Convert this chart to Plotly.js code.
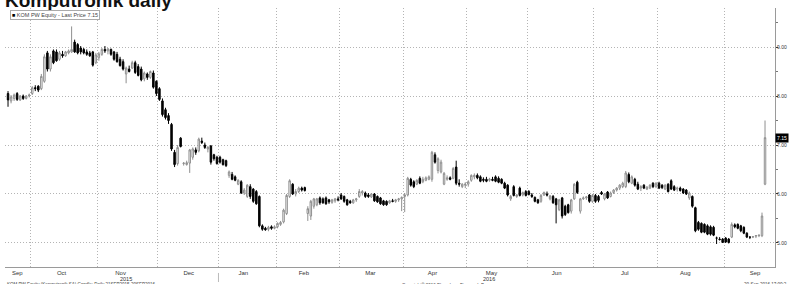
<!DOCTYPE html>
<html>
<head>
<meta charset="utf-8">
<script src="https://cdn.plot.ly/plotly-3.0.1.min.js"></script>
<style>html,body{margin:0;padding:0;background:#fff;}#chart{width:789px;height:284px;}</style>
</head>
<body>
<div id="chart"></div>
<script>
// Trading days (Warsaw exchange), 21 Sep 2015 - 20 Sep 2016
const dates = [
"2015-09-21","2015-09-22","2015-09-23","2015-09-24","2015-09-25","2015-09-28","2015-09-29","2015-09-30",
"2015-10-01","2015-10-02","2015-10-05","2015-10-06","2015-10-07","2015-10-08","2015-10-09","2015-10-12","2015-10-13","2015-10-14","2015-10-15","2015-10-16","2015-10-19","2015-10-20","2015-10-21","2015-10-22","2015-10-23","2015-10-26","2015-10-27","2015-10-28","2015-10-29","2015-10-30",
"2015-11-02","2015-11-03","2015-11-04","2015-11-05","2015-11-06","2015-11-09","2015-11-10","2015-11-12","2015-11-13","2015-11-16","2015-11-17","2015-11-18","2015-11-19","2015-11-20","2015-11-23","2015-11-24","2015-11-25","2015-11-26","2015-11-27","2015-11-30",
"2015-12-01","2015-12-02","2015-12-03","2015-12-04","2015-12-07","2015-12-08","2015-12-09","2015-12-10","2015-12-11","2015-12-14","2015-12-15","2015-12-16","2015-12-17","2015-12-18","2015-12-21","2015-12-22","2015-12-23","2015-12-28","2015-12-29","2015-12-30",
"2016-01-04","2016-01-05","2016-01-07","2016-01-08","2016-01-11","2016-01-12","2016-01-13","2016-01-14","2016-01-15","2016-01-18","2016-01-19","2016-01-20","2016-01-21","2016-01-22","2016-01-25","2016-01-26","2016-01-27","2016-01-28","2016-01-29",
"2016-02-01","2016-02-02","2016-02-03","2016-02-04","2016-02-05","2016-02-08","2016-02-09","2016-02-10","2016-02-11","2016-02-12","2016-02-15","2016-02-16","2016-02-17","2016-02-18","2016-02-19","2016-02-22","2016-02-23","2016-02-24","2016-02-25","2016-02-26","2016-02-29",
"2016-03-01","2016-03-02","2016-03-03","2016-03-04","2016-03-07","2016-03-08","2016-03-09","2016-03-10","2016-03-11","2016-03-14","2016-03-15","2016-03-16","2016-03-17","2016-03-18","2016-03-21","2016-03-22","2016-03-23","2016-03-24","2016-03-29","2016-03-30","2016-03-31",
"2016-04-01","2016-04-04","2016-04-05","2016-04-06","2016-04-07","2016-04-08","2016-04-11","2016-04-12","2016-04-13","2016-04-14","2016-04-15","2016-04-18","2016-04-19","2016-04-20","2016-04-21","2016-04-22","2016-04-25","2016-04-26","2016-04-27","2016-04-28","2016-04-29",
"2016-05-02","2016-05-04","2016-05-05","2016-05-06","2016-05-09","2016-05-10","2016-05-11","2016-05-12","2016-05-13","2016-05-16","2016-05-17","2016-05-18","2016-05-19","2016-05-20","2016-05-23","2016-05-24","2016-05-25","2016-05-27","2016-05-30","2016-05-31",
"2016-06-01","2016-06-02","2016-06-03","2016-06-06","2016-06-07","2016-06-08","2016-06-09","2016-06-10","2016-06-13","2016-06-14","2016-06-15","2016-06-16","2016-06-17","2016-06-20","2016-06-21","2016-06-22","2016-06-23","2016-06-24","2016-06-27","2016-06-28","2016-06-29","2016-06-30",
"2016-07-01","2016-07-04","2016-07-05","2016-07-06","2016-07-07","2016-07-08","2016-07-11","2016-07-12","2016-07-13","2016-07-14","2016-07-15","2016-07-18","2016-07-19","2016-07-20","2016-07-21","2016-07-22","2016-07-25","2016-07-26","2016-07-27","2016-07-28","2016-07-29",
"2016-08-01","2016-08-02","2016-08-03","2016-08-04","2016-08-05","2016-08-08","2016-08-09","2016-08-10","2016-08-11","2016-08-12","2016-08-16","2016-08-17","2016-08-18","2016-08-19","2016-08-22","2016-08-23","2016-08-24","2016-08-25","2016-08-26","2016-08-29","2016-08-30","2016-08-31",
"2016-09-01","2016-09-02","2016-09-05","2016-09-06","2016-09-07","2016-09-08","2016-09-09","2016-09-12","2016-09-13","2016-09-14","2016-09-15","2016-09-16","2016-09-19","2016-09-20"
];

const holidays = ["2015-11-11","2015-12-24","2015-12-25","2015-12-31","2016-01-01","2016-01-06",
  "2016-03-25","2016-03-28","2016-05-03","2016-05-26","2016-08-15"];

const openPrice = [
8.05,7.90,7.95,8.05,7.92,8.00,7.95,8.00,
8.05,8.17,8.20,8.15,8.30,8.88,8.55,8.92,8.90,8.75,8.85,8.82,8.88,8.90,9.10,9.05,8.98,8.95,8.90,8.88,8.90,8.68,
8.78,8.85,8.95,8.92,8.95,8.90,8.85,8.75,8.70,8.45,8.55,8.57,8.68,8.60,8.55,8.35,8.45,8.38,8.47,8.30,
8.15,7.90,7.72,7.60,7.42,6.85,6.62,7.14,6.62,6.60,6.63,6.75,6.90,6.88,7.08,7.00,6.92,6.98,6.80,6.75,
6.75,6.70,6.68,6.38,6.40,6.35,6.20,6.25,6.02,5.95,6.15,6.10,6.05,5.95,5.35,5.30,5.28,5.33,5.30,
5.33,5.38,5.43,5.60,5.95,6.20,6.00,6.05,6.12,6.13,5.60,5.55,5.75,5.78,5.92,5.90,5.92,5.88,5.83,5.86,5.90,
5.98,5.95,5.88,5.85,5.82,5.88,5.95,6.02,6.02,5.98,5.94,6.00,5.95,5.92,5.86,5.85,5.82,5.86,5.85,5.88,5.90,
5.95,5.98,6.30,6.25,6.20,6.32,6.25,6.28,6.30,6.30,6.80,6.48,6.45,6.20,6.30,6.33,6.32,6.55,6.22,6.15,6.18,
6.20,6.28,6.35,6.38,6.35,6.30,6.30,6.28,6.30,6.35,6.32,6.30,6.22,6.18,5.90,6.15,5.95,6.12,5.98,6.05,
6.05,5.98,5.93,5.88,5.85,5.98,6.00,5.90,5.95,5.90,5.68,5.92,5.75,5.78,5.65,5.90,6.24,5.65,5.90,5.92,5.98,5.85,
5.97,5.95,6.03,5.90,6.04,5.95,6.03,6.08,6.12,6.15,6.15,6.40,6.22,6.30,6.20,6.12,6.18,6.10,6.12,6.22,6.15,
6.22,6.18,6.10,6.20,6.27,6.15,6.10,6.12,6.10,6.08,5.92,5.95,5.72,5.42,5.40,5.38,5.35,5.33,5.32,5.10,5.08,5.08,
5.10,5.08,5.12,5.37,5.38,5.35,5.32,5.20,5.12,5.12,5.14,5.15,5.15,6.20
];
const highPrice = [
8.10,8.02,8.05,8.08,8.02,8.03,8.02,8.05,
8.20,8.22,8.22,8.45,8.85,8.92,8.85,8.95,8.95,8.92,8.92,8.92,8.95,9.42,9.15,9.08,9.02,8.98,8.95,8.92,8.92,8.88,
8.90,8.98,9.02,8.98,8.97,8.92,8.90,8.80,8.75,8.60,8.62,8.72,8.72,8.65,8.60,8.50,8.48,8.52,8.52,8.32,
8.18,7.95,7.76,7.65,7.45,6.90,7.00,7.16,6.65,6.68,6.92,6.95,6.95,7.15,7.15,7.05,6.98,7.00,6.82,6.78,
6.78,6.72,6.70,6.48,6.45,6.38,6.30,6.28,6.12,6.20,6.20,6.12,6.08,5.97,5.38,5.33,5.35,5.36,5.36,
5.42,5.45,5.70,6.00,6.30,6.22,6.10,6.15,6.15,6.15,5.75,5.88,5.92,5.92,5.95,5.93,5.95,5.90,5.90,5.92,5.95,
6.02,5.97,5.90,5.88,5.90,5.92,6.10,6.08,6.05,6.02,6.02,6.02,5.97,5.94,5.88,5.87,5.88,5.90,5.90,5.92,5.95,
6.02,6.35,6.33,6.28,6.30,6.36,6.35,6.36,6.38,6.88,6.85,6.75,6.70,6.45,6.38,6.36,6.55,6.68,6.30,6.22,6.24,
6.28,6.40,6.42,6.42,6.38,6.34,6.35,6.33,6.35,6.38,6.36,6.32,6.25,6.20,5.98,6.18,6.00,6.15,6.05,6.08,
6.08,6.02,5.95,5.90,6.00,6.05,6.05,5.98,5.98,5.92,5.90,5.94,5.78,5.80,5.90,6.22,6.27,5.92,5.95,5.96,6.00,6.00,
6.00,5.98,6.06,6.02,6.06,6.05,6.10,6.14,6.20,6.25,6.47,6.44,6.38,6.33,6.25,6.18,6.20,6.16,6.20,6.24,6.24,
6.25,6.20,6.20,6.22,6.30,6.18,6.15,6.15,6.12,6.10,6.05,5.97,5.74,5.45,5.42,5.40,5.38,5.36,5.35,5.13,5.12,5.10,
5.12,5.10,5.42,5.40,5.40,5.37,5.34,5.22,5.13,5.14,5.16,5.17,5.62,7.50
];
const lowPrice = [
7.78,7.85,7.90,7.90,7.90,7.92,7.93,7.97,
8.02,8.10,8.08,8.12,8.27,8.50,8.50,8.65,8.70,8.72,8.78,8.80,8.85,8.88,8.88,8.85,8.85,8.85,8.82,8.80,8.60,8.65,
8.72,8.82,8.88,8.85,8.82,8.72,8.68,8.60,8.52,8.26,8.48,8.55,8.45,8.40,8.30,8.30,8.33,8.35,8.15,8.00,
7.90,7.58,7.52,7.43,6.88,6.55,6.58,6.95,6.58,6.58,6.43,6.70,6.80,6.85,7.02,6.92,6.85,6.60,6.68,6.60,
6.62,6.58,6.55,6.33,6.28,6.26,6.18,6.00,5.98,5.92,5.90,5.82,5.78,5.32,5.25,5.25,5.24,5.27,5.28,
5.30,5.35,5.40,5.57,5.92,5.98,5.95,6.02,6.05,6.05,5.45,5.47,5.70,5.75,5.78,5.80,5.78,5.80,5.80,5.82,5.85,
5.88,5.82,5.76,5.80,5.80,5.84,5.92,5.97,5.92,5.92,5.92,5.84,5.82,5.78,5.76,5.76,5.80,5.83,5.82,5.84,5.65,
5.63,5.95,6.15,6.12,6.18,6.20,6.22,6.26,6.28,6.25,6.62,6.42,6.42,6.18,6.27,6.28,6.30,6.18,6.15,6.12,6.12,
6.15,6.25,6.30,6.30,6.24,6.24,6.24,6.25,6.26,6.24,6.22,6.20,6.10,5.95,5.86,5.95,5.92,5.95,5.95,5.95,
5.97,5.92,5.83,5.80,5.82,5.96,5.95,5.87,5.80,5.40,5.65,5.50,5.55,5.60,5.60,5.88,6.00,5.60,5.88,5.88,5.82,5.82,
5.82,5.83,5.98,5.87,5.90,5.93,6.00,6.05,6.08,6.12,6.12,6.22,6.20,6.15,6.08,6.06,6.10,6.08,6.10,6.12,6.12,
6.10,6.10,6.08,6.03,6.08,6.06,6.05,6.05,6.00,5.98,5.88,5.72,5.22,5.25,5.20,5.20,5.16,5.15,5.14,4.98,5.05,5.00,
5.00,4.99,5.10,5.30,5.28,5.22,5.18,5.10,5.08,5.10,5.10,5.12,5.12,6.18
];
const closePrice = [
7.92,7.98,8.02,7.93,8.00,7.95,8.00,8.02,
8.17,8.15,8.12,8.40,8.80,8.55,8.80,8.68,8.72,8.88,8.82,8.90,8.92,8.95,8.90,8.88,8.90,8.88,8.85,8.82,8.63,8.84,
8.86,8.95,8.92,8.96,8.85,8.75,8.70,8.62,8.55,8.57,8.50,8.68,8.48,8.42,8.33,8.47,8.38,8.50,8.18,8.05,
7.93,7.62,7.56,7.50,6.92,6.60,6.95,6.97,6.63,6.64,6.90,6.92,6.85,7.12,7.05,6.95,6.95,6.65,6.72,6.62,
6.65,6.60,6.58,6.45,6.30,6.28,6.28,6.02,6.08,6.18,5.95,5.85,5.80,5.35,5.28,5.27,5.32,5.30,5.33,
5.40,5.42,5.67,5.97,6.27,6.00,6.05,6.12,6.08,6.07,5.70,5.85,5.90,5.90,5.82,5.82,5.80,5.84,5.88,5.90,5.88,
5.90,5.85,5.78,5.82,5.88,5.90,6.05,6.05,5.95,5.95,6.00,5.86,5.84,5.80,5.78,5.78,5.86,5.85,5.88,5.90,5.93,
5.98,6.32,6.18,6.15,6.28,6.22,6.30,6.33,6.35,6.85,6.65,6.72,6.65,6.42,6.33,6.30,6.52,6.22,6.20,6.20,6.20,
6.25,6.38,6.38,6.33,6.26,6.28,6.26,6.30,6.28,6.26,6.24,6.22,6.12,5.98,5.95,5.97,5.98,5.97,6.03,5.97,
5.99,5.95,5.85,5.82,5.97,6.03,5.98,5.96,5.82,5.78,5.88,5.55,5.58,5.62,5.88,6.20,6.03,5.90,5.92,5.94,5.85,5.97,
5.85,5.87,6.00,6.00,5.92,6.02,6.08,6.12,6.18,6.22,6.43,6.25,6.35,6.18,6.10,6.15,6.12,6.14,6.18,6.15,6.22,
6.12,6.13,6.18,6.05,6.10,6.08,6.12,6.07,6.02,6.00,6.02,5.75,5.25,5.28,5.22,5.22,5.18,5.18,5.16,5.10,5.07,5.01,
5.02,5.01,5.38,5.33,5.30,5.25,5.20,5.12,5.12,5.13,5.15,5.16,5.55,7.15
];

const seriesName = "KOM PW Equity - Last Price 7.15";
const lastPrice = 7.15;
const yTicks = [5, 6, 7, 8, 9];

const FONT = "Liberation Sans, Arial, sans-serif";
const GRID = "#b4b4b4";

const trace = {
  type: "candlestick",
  name: seriesName,
  x: dates.map(d => d + " 12:00"),
  open: openPrice, high: highPrice, low: lowPrice, close: closePrice,
  increasing: {line: {color: "#8f8f8f", width: 1}, fillcolor: "#ffffff"},
  decreasing: {line: {color: "#000000", width: 1}, fillcolor: "#000000"},
  whiskerwidth: 0,
  hoverinfo: "skip"
};

const layout = {
  width: 789, height: 284,
  margin: {l: 5, r: 14, t: 8, b: 17, pad: 0},
  paper_bgcolor: "#ffffff", plot_bgcolor: "#ffffff",
  showlegend: false,
  font: {family: FONT, size: 6, color: "#333"},
  title: {text: "Komputronik daily", font: {family: FONT, size: 19, color: "#111", weight: "bold"},
          xref: "container", yref: "container", x: 5/789, xanchor: "left", y: 0.975, yanchor: "bottom"},
  xaxis: {
    type: "date",
    range: ["2015-09-18 12:00", "2016-09-23 19:00"],
    rangebreaks: [{bounds: ["sat", "mon"]}, {values: holidays}],
    rangeslider: {visible: false},
    tick0: "2015-09-01", dtick: "M1", tickformat: "%b", ticklabelmode: "period",
    ticklabelshift: -4,
    ticks: "", showgrid: true, gridcolor: GRID, griddash: "1px,2px", gridwidth: 1,
    showline: true, linecolor: "#9a9a9a", linewidth: 1, zeroline: false,
    tickfont: {family: FONT, size: 6, color: "#333"}, fixedrange: true
  },
  yaxis: {
    side: "right", range: [4.51, 9.796],
    tickmode: "array", tickvals: yTicks, ticktext: yTicks.map(v => v.toFixed(2)),
    ticks: "outside", ticklen: 2, tickcolor: "#333", tickwidth: 1,
    ticklabelstandoff: -2,
    minor: {tickmode: "linear", tick0: 4.5, dtick: 0.5, ticks: "outside", ticklen: 2, tickcolor: "#777", showgrid: false},
    showgrid: true, gridcolor: GRID, griddash: "1px,2px", gridwidth: 1,
    showline: true, linecolor: "#9a9a9a", linewidth: 1, zeroline: false,
    tickfont: {family: FONT, size: 5, color: "#333"}, fixedrange: true
  },
  annotations: [
    {xref: "paper", yref: "paper", x: 0, y: 1, xanchor: "left", yanchor: "top", xshift: 5, yshift: -2,
     text: "<span style='color:#000'>■</span> " + seriesName, showarrow: false,
     font: {family: FONT, size: 5.5, color: "#444"}, bgcolor: "#ffffff", bordercolor: "#aaaaaa", borderwidth: 1, borderpad: 1},
    {xref: "paper", yref: "y", x: 1, y: lastPrice, xanchor: "left", yanchor: "middle", xshift: 0,
     text: lastPrice.toFixed(2), showarrow: false, font: {family: FONT, size: 5, color: "#ffffff"},
     bgcolor: "#000000", borderpad: 1},
    {xref: "x", yref: "paper", x: "2015-09-24 12:00", y: 0, yanchor: "top", yshift: -1,
     text: "Sep", showarrow: false, font: {family: FONT, size: 6, color: "#333"}},
    {xref: "x", yref: "paper", x: "2015-11-16 12:00", y: 0, yanchor: "top", yshift: -7,
     text: "2015", showarrow: false, font: {family: FONT, size: 5.5, color: "#333"}},
    {xref: "x", yref: "paper", x: "2016-05-12 12:00", y: 0, yanchor: "top", yshift: -7,
     text: "2016", showarrow: false, font: {family: FONT, size: 5.5, color: "#333"}},
    {xref: "paper", yref: "paper", x: 0, y: 0, xanchor: "left", yanchor: "top", yshift: -13, xshift: 0,
     text: "KOM PW Equity (Komputronik SA) Candle: Daily 21SEP2015-20SEP2016", showarrow: false,
     font: {family: FONT, size: 4.5, color: "#444"}},
    {xref: "paper", yref: "paper", x: 0.57, y: 0, xanchor: "center", yanchor: "top", yshift: -13,
     text: "Copyright© 2016 Bloomberg Finance L.P.", showarrow: false,
     font: {family: FONT, size: 4.5, color: "#444"}},
    {xref: "paper", yref: "paper", x: 1, y: 0, xanchor: "right", yanchor: "top", yshift: -13, xshift: 14,
     text: "20-Sep-2016 17:00:2", showarrow: false,
     font: {family: FONT, size: 4.5, color: "#444"}}
  ],
  shapes: [
    {type: "line", xref: "x", yref: "paper", x0: "2016-01-04", x1: "2016-01-04", y0: -0.023, y1: -0.058,
     line: {color: "#bbbbbb", width: 1}}
  ]
};

Plotly.newPlot("chart", [trace], layout, {displayModeBar: false, staticPlot: true});
</script>
</body>
</html>
